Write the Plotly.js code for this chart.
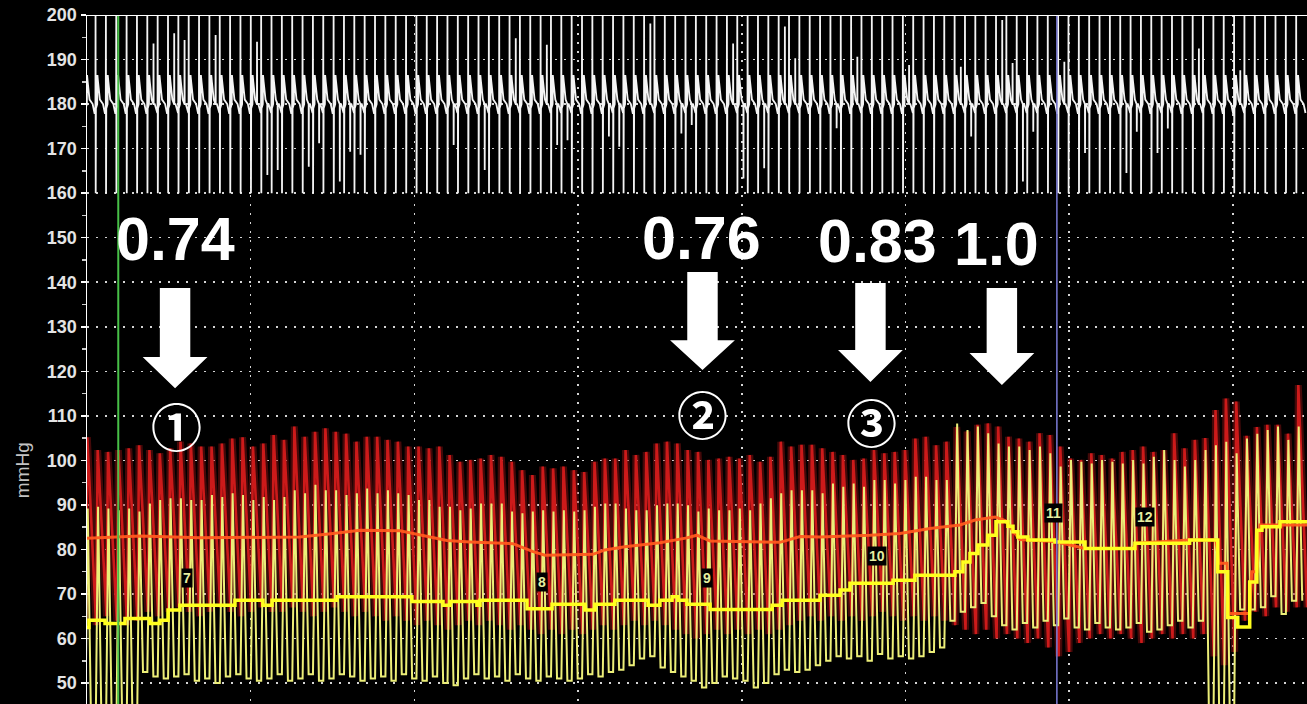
<!DOCTYPE html>
<html><head><meta charset="utf-8">
<script src="https://cdn.plot.ly/plotly-3.0.1.min.js"></script>
<style>html,body{margin:0;padding:0;background:#000;overflow:hidden;} #chart{width:1307px;height:704px;}</style>
</head><body><div id="chart"></div>
<script>
// ---- data ----
const beatPeriod = 0.6323;   // seconds per beat
const firstBeat = 0.02;      // time of first aortic peak (s)

// aortic pressure (Pa) per beat, mmHg
const paSys = [105.2,102.3,101.9,102.3,102.7,103.4,102.3,101.6,102.7,104.2,103.8,103.1,103.1,103.8,104.9,105.2,103.1,103.8,105.7,104.6,107.6,105.3,106.4,107.2,106.4,106.0,104.2,105.3,
  105.3,104.6,104.2,103.1,103.1,102.7,103.1,101.2,99.7,100.1,100.4,101.2,100.8,99.7,97.8,96.7,98.6,98.2,98.6,97.8,97.4,99.7,100.4,100.4,102.3,101.2,101.9,103.8,104.2,103.8,102.3,101.9,100.1,100.4,100.8,100.4,101.2,99.7,100.8,104.2,103.1,103.5,103.5,
  102.7,101.9,101.2,100.1,100.4,102.3,101.6,101.9,102.3,104.9,105.3,103.4,104.2,
  107.5,106.5,108.0,108.3,107.6,105.3,104.9,104.2,106.1,105.7,103.1,100.4,100.1,101.6,101.2,100.4,101.9,102.3,103.1,101.9,102.3,106.1,102.7,104.6,105.0,
  111.3,113.9,113.2,105.5,107.5,108.0,108.0,106.0,116.9];
const paDia = [64,63,65,64,63,64,66,65,66,67,66,65,66,67,66,65,66,67,66,66,67,66,65,66,67,66,65,66,
  65,64,65,64,63,64,63,62,63,64,63,64,63,62,63,62,61,62,61,62,61,62,63,62,63,64,63,64,
  63,62,61,60,61,62,61,62,61,62,61,62,63,64,65,
  64,65,64,65,64,65,66,65,64,65,64,65,64,
  63,62,61,62,60,61,60,59,60,58,56,57,59,60,61,60,61,60,59,60,61,60,61,60,61,
  56,54,57,64,66,65,67,66,67];

// distal pressure (Pd) per beat, mmHg
const pdSys = [89.2,89.6,89.2,88.8,89.2,88.5,90.3,91.1,91.5,91.5,91.1,91.1,92.2,91.8,92.6,92.2,91.1,91.8,91.1,91.8,93.3,92.6,94.5,93.3,93.3,92.2,92.6,93.7,
  92.6,93.3,92.6,92.2,91.1,91.1,89.6,89.6,88.8,89.2,90.3,90.3,90.3,88.5,88.1,88.5,88.8,88.5,88.8,88.5,88.8,89.6,90.3,90.3,89.2,88.8,88.8,89.9,90.3,90.3,89.9,88.5,89.2,88.8,88.8,89.2,88.8,90.3,91.5,92.6,93.3,93.3,93.3,
  92.6,94.8,94.1,94.8,94.1,95.6,95.6,94.8,95.6,96.3,96.3,95.6,95.6,
  108.3,106.8,107.6,106.1,103.8,103.1,103.1,102.3,103.1,101.6,98.6,100.1,99.7,99.3,100.1,99.7,99.3,100.1,99.3,100.8,102.3,100.1,98.6,100.1,102.3,
  103.4,104.2,101.6,104.9,106.0,106.8,107.6,104.6,107.6];
const pdDia = [40,38,39,38,40,39,52.5,51.5,51,51.5,52,50.5,51,50,51.5,52,51,50.5,51,52,50.5,51,52,50.5,51,52,51.5,50.5,
  51,51.5,50.5,52,51,50.5,51.5,50,49.5,51,52,51,51.5,50.5,52,51,50.5,51.5,51,50.5,51,52,51.5,52.5,53,54,55.5,56,53.5,52.5,51.5,50.5,49,50,51.5,51,50.5,49,50,52,53,52.5,53,
  54,55,56,55.5,56,55,56.5,55.5,56,55.5,56,57,58,
  64,66,67,68,65,63,62,63.5,62.5,64,63,64.5,62.5,62,63.5,62.5,62,62.5,63.5,61.5,62,63,64,62.5,64,
  40,38,42,66.5,66.5,67,69.5,65.5,68.5];

// mean pressures (time s, mmHg)
const paMeanT = [0,3.24,6.90,13.01,15.03,16.68,19.12,19.91,21.99,23.40,26.02,27.25,27.98,30.91,31.64,32.86,35.00,36.65,37.26,38.06,42.33,43.56,44.78,47.83,49.66,51.50,53.33,54.25,55.47,56.08,56.99,59.13,60.97,63.90,64.08,67.38,68.97,69.15,69.64,69.76,71.03,71.15,71.47,71.66,74.53];
const paMeanV = [82.5,83.0,82.6,82.8,83.6,84.3,84.2,83.6,82.0,81.7,81.3,79.5,78.7,78.9,79.9,80.6,81.5,82.6,83.2,81.9,81.6,82.9,82.8,83.2,83.6,84.7,85.5,86.6,87.3,86.5,82.2,81.8,80.2,80.2,81.4,82.1,82.1,76.9,76.9,65.6,65.6,75.0,75.0,85.5,85.5];
const pdMeanT = [0,0.12,1.10,2.32,3.85,4.46,4.95,5.68,9.04,10.75,11.30,15.27,19.85,21.75,22.18,23.82,24.01,26.88,28.41,30.42,31.03,32.25,34.27,35.00,35.74,36.10,36.65,38.06,41.85,42.46,44.78,46.00,46.61,49.24,50.58,53.02,53.51,53.94,54.43,55.04,55.53,56.26,56.57,56.87,57.48,59.13,60.97,64.02,67.36,69.08,69.69,70.30,71.03,71.47,71.78,72.88,74.53];
const pdMeanV = [62.5,64.1,63.4,64.5,63.4,64.1,66.4,67.5,68.6,67.5,68.6,69.4,68.3,67.5,68.3,67.5,68.6,66.7,67.7,66.4,67.7,68.6,67.5,68.6,69.4,68.6,67.7,66.5,67.5,68.6,69.7,70.9,72.4,73.1,74.2,75.0,77.2,79.1,81.0,83.2,86.2,85.2,84.0,82.8,82.1,81.7,80.2,81.4,82.1,75.0,64.7,62.6,72.7,84.3,85.1,86.2,86.2];

// ECG channel (clipped to 160..200 display band)
const ecgTop = 200, ecgBottom = 160, ecgBase = 180, ecgTwave = 186.5;
const ecgExtraBeat = [6,8,9,12,16,17,18,21,22,24,25,26,35,38,41,44,45,46,50,51,54,57,58,62,63,65,67,68,72,74,79,84,85,88,89,90,91,94,96,100,101,103,104,107,111];
const ecgExtraVal = [193.6,195.9,194.4,195.5,194.0,164.1,165.2,165.9,171.2,162.6,169.3,168.6,170.8,165.2,194.8,193.3,170.8,171.9,172.7,170.4,198.1,173.4,175.3,193.6,163.3,165.6,197.4,190.3,174.6,190.6,188.8,188.4,172.7,198.9,189.2,162.6,173.8,189.5,169.0,164.5,173.8,169.0,174.5,192.5,187.6];

const yTicks = [50,60,70,80,90,100,110,120,130,140,150,160,170,180,190,200];
const ratioLabels = ['0.74','0.76','0.83','1.0'];
const pointLabels = ['①','②','③'];
const segLabels = ['7','8','9','10','11','12'];

// ---- build traces ----
const P = beatPeriod;
const beatT = paSys.map((_, k) => firstBeat + k * P);

const paX = [], paY = [];
beatT.forEach((t, k) => {
  paX.push(t - 0.15 * P); paY.push(paDia[k]);
  paX.push(t); paY.push(paSys[k]);
});
paX.push(beatT[beatT.length - 1] + 0.85 * P); paY.push(paDia[paDia.length - 1]);

const pdX = [], pdY = [];
beatT.forEach((t, k) => {
  pdX.push(t - 0.2 * P); pdY.push(pdDia[k]);
  pdX.push(t + 0.04 * P); pdY.push(pdSys[k]);
  const nd = k + 1 < pdDia.length ? pdDia[k + 1] : pdDia[k];
  pdX.push(t + 0.38 * P); pdY.push(nd);
});

const extraMap = {};
ecgExtraBeat.forEach((b, i) => { extraMap[b] = ecgExtraVal[i]; });
const ecgX = [], ecgY = [];
beatT.forEach((t, k) => {
  const e = t - 0.13;
  const pts = [[e - 0.02, ecgBase - 2], [e - 0.006, ecgBase], [e, ecgTop], [e + 0.01, ecgBottom], [e + 0.022, ecgBase - 1],
    [e + 0.16 * P, ecgBase], [e + 0.18 * P, ecgTwave], [e + 0.24 * P, ecgTwave - 1.5], [e + 0.42 * P, ecgBase + 1]];
  if (extraMap[k] !== undefined) {
    const s = e + 0.6 * P;
    pts.push([s - 0.006, ecgBase], [s, extraMap[k]], [s + 0.008, ecgBase]);
  }
  pts.push([e + 0.72 * P, ecgBase], [e + 0.9 * P, ecgBase - 2]);
  pts.forEach(p => { ecgX.push(p[0]); ecgY.push(p[1]); });
});

const traces = [
  {x: ecgX, y: ecgY, type: 'scatter', mode: 'lines', line: {color: '#f4f4f4', width: 1.8}, hoverinfo: 'skip'},
  {x: paX, y: paY, type: 'scatter', mode: 'lines', line: {color: 'rgba(150,20,20,0.45)', width: 7}, hoverinfo: 'skip'},
  {x: paX, y: paY, type: 'scatter', mode: 'lines', line: {color: '#cc1a1a', width: 2.6}, hoverinfo: 'skip'},
  {x: pdX, y: pdY, type: 'scatter', mode: 'lines', line: {color: '#ecee78', width: 2}, hoverinfo: 'skip'},
  {x: paMeanT, y: paMeanV, type: 'scatter', mode: 'lines', line: {color: '#ff5a1e', width: 3}, opacity: 0.95, hoverinfo: 'skip'},
  {x: pdMeanT, y: pdMeanV, type: 'scatter', mode: 'lines', line: {color: '#ffff1e', width: 3.5, shape: 'hv'}, hoverinfo: 'skip'}
];

// ---- decorations ----
function arrowPath(cx, top, neck, tip) {
  const sh = 0.93, hh = 1.98;
  return `M ${cx - sh},${top} L ${cx + sh},${top} L ${cx + sh},${neck} L ${cx + hh},${neck} L ${cx},${tip} L ${cx - hh},${neck} L ${cx - sh},${neck} Z`;
}
const arrowShape = (cx, top, neck, tip) => ({type: 'path', xref: 'x', yref: 'y', path: arrowPath(cx, top, neck, tip), fillcolor: '#ffffff', line: {width: 0}});

const shapes = [
  {type: 'line', xref: 'x', yref: 'paper', x0: 1.91, x1: 1.91, y0: 0, y1: 1, line: {color: '#48c048', width: 2}},
  {type: 'line', xref: 'x', yref: 'paper', x0: 59.25, x1: 59.25, y0: 0, y1: 1, line: {color: '#7c7cd8', width: 1.5}},
  {type: 'line', xref: 'paper', yref: 'y', x0: 0, x1: 1, y0: 200, y1: 200, line: {color: '#ffffff', width: 2}},
  arrowShape(5.38, 138.7, 123.2, 116.2),
  arrowShape(37.60, 142.3, 127.0, 120.3),
  arrowShape(47.86, 139.8, 124.8, 117.6),
  arrowShape(55.89, 138.7, 124.1, 116.9)
];

const bigFont = {family: 'Liberation Sans, Arial, sans-serif', size: 61, color: '#ffffff', weight: 'bold'};
const circFont = {family: 'Noto Sans CJK JP, DejaVu Sans, sans-serif', size: 51, color: '#ffffff', weight: 'bold'};
const segFont = {family: 'Liberation Sans, Arial, sans-serif', size: 14, color: '#e6eea0', weight: 'bold'};
const ann = (text, x, y, font, extra) => Object.assign({text, x, y, xref: 'x', yref: 'y', showarrow: false, font, xanchor: 'center', yanchor: 'middle'}, extra || {});

const annotations = [
  ann(ratioLabels[0], 5.38, 149.7, bigFont),
  ann(ratioLabels[1], 37.57, 149.9, bigFont),
  ann(ratioLabels[2], 48.32, 149.3, bigFont),
  ann(ratioLabels[3], 55.59, 148.6, bigFont),
  ann(pointLabels[0], 5.44, 108.0, circFont),
  ann(pointLabels[1], 37.63, 110.7, circFont),
  ann(pointLabels[2], 47.95, 108.9, circFont),
  ann(segLabels[0], 6.11, 73.6, segFont, {bgcolor: '#000', borderpad: 1}),
  ann(segLabels[1], 27.8, 72.7, segFont, {bgcolor: '#000', borderpad: 1}),
  ann(segLabels[2], 37.87, 73.6, segFont, {bgcolor: '#000', borderpad: 1}),
  ann(segLabels[3], 48.26, 78.5, segFont, {bgcolor: '#000', borderpad: 1}),
  ann(segLabels[4], 59.07, 88.2, segFont, {bgcolor: '#000', borderpad: 1}),
  ann(segLabels[5], 64.63, 87.3, segFont, {bgcolor: '#000', borderpad: 1}),
  {text: 'mmHg', xref: 'paper', yref: 'y', x: -0.0533, y: 97.8, showarrow: false, textangle: -90,
   font: {family: 'Liberation Sans, Arial, sans-serif', size: 19, color: '#c4c4c4'}, xanchor: 'center', yanchor: 'middle'}
];

const grid = {gridcolor: '#d4d4d4', griddash: '2px,7px', gridwidth: 1.5};
const layout = {
  width: 1307, height: 704,
  margin: {l: 87, r: 0, t: 15, b: 0, pad: 0},
  paper_bgcolor: '#000000', plot_bgcolor: '#000000',
  showlegend: false,
  xaxis: Object.assign({range: [0, 74.53], showticklabels: false, ticks: '', tick0: 0, dtick: 10, showgrid: true, zeroline: false, showline: false, fixedrange: true}, grid),
  yaxis: Object.assign({range: [45.3, 200], tickmode: 'array', tickvals: yTicks, ticktext: yTicks.map(String),
    tickfont: {family: 'Liberation Sans, Arial, sans-serif', size: 18, color: '#e4e4e4', weight: 'bold'},
    ticks: 'outside', ticklen: 5, tickwidth: 1.5, tickcolor: '#ffffff',
    minor: {tickmode: 'linear', tick0: 45, dtick: 5, ticks: 'outside', ticklen: 4, tickcolor: '#cccccc', showgrid: false},
    showline: true, linecolor: '#ffffff', linewidth: 1.5, zeroline: false, showgrid: true, fixedrange: true}, grid),
  shapes, annotations
};

Plotly.newPlot('chart', traces, layout, {displayModeBar: false, staticPlot: true});
</script>
</body></html>
